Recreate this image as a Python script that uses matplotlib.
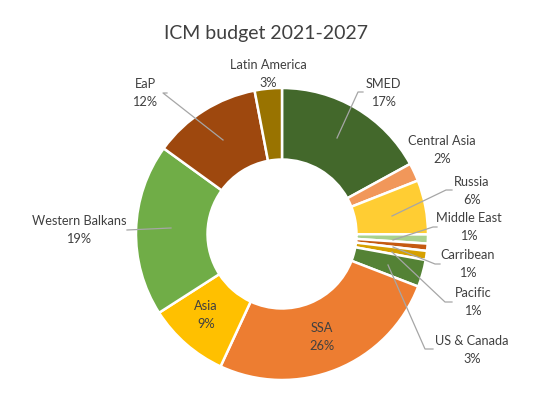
import matplotlib
matplotlib.use("Agg")
import matplotlib.pyplot as plt

plt.rcParams["font.family"] = ["Lato", "DejaVu Sans"]

# data, clockwise from 12 o'clock
regioes = ["SMED", "Central Asia", "Russia", "Middle East", "Carribean", "Pacific",
           "US & Canada", "SSA", "Asia", "Western Balkans", "EaP", "Latin America"]
valores = [17, 2, 6, 1, 0.8, 1, 3, 26, 9, 19, 12, 3]
cores = ["#43682B", "#F1975A", "#FFCD33", "#A9D18E", "#C55A11", "#D6A000",
         "#548235", "#ED7D31", "#FFC000", "#70AD47", "#9E480E", "#997300"]

# label placement (pixels in the 554x394 figure): text centre, leader line points
pos_rotulo = {
    "SMED": (383, 93), "Central Asia": (442, 150), "Russia": (472, 191),
    "Middle East": (469, 227), "Carribean": (468, 264), "Pacific": (473, 302),
    "US & Canada": (472, 350), "SSA": (322, 337), "Asia": (206, 315),
    "Western Balkans": (79, 230), "EaP": (145, 93), "Latin America": (268, 74),
}
linhas = {
    "SMED": [(363, 92), (358, 92), (337, 138)],
    "Russia": [(452, 190), (446, 190), (392, 216)],
    "Middle East": [(437, 227), (433, 227), (393, 240)],
    "Carribean": [(440, 264), (435, 264), (393, 247)],
    "Pacific": [(452, 302), (445, 302), (392, 252)],
    "US & Canada": [(433, 349), (425, 349), (388, 265)],
    "Western Balkans": [(127, 230), (171, 228)],
    "EaP": [(167, 93), (163, 93), (223, 140)],
}

W, H = 554, 394
CX, CY, R = 282, 234, 146


def px(p):
    """pixel -> data coords (pie radius 1)"""
    return (p[0] - CX) / R, (CY - p[1]) / R


fig = plt.figure(figsize=(W / 100, H / 100), dpi=100)
ax = fig.add_axes([0, 0, 1, 1])

ax.pie(valores, colors=cores, startangle=90, counterclock=False, radius=1,
       wedgeprops=dict(width=0.49, edgecolor="white", linewidth=1.8))

# pie() mexe nos limites, entao define depois
ax.set_xlim(-CX / R, (W - CX) / R)
ax.set_ylim(-(H - CY) / R, CY / R)
ax.axis("off")

total = sum(valores)
for nome, v in zip(regioes, valores):
    x, y = px(pos_rotulo[nome])
    ax.text(x, y, "%s\n%d%%" % (nome, round(v / total * 100)), ha="center", va="center",
            fontsize=9.2, color="#404040", linespacing=1.55)

for nome, pts in linhas.items():
    xs, ys = zip(*[px(p) for p in pts])
    ax.plot(xs, ys, color="#A6A6A6", linewidth=0.9)

fig.text(266 / W, 1 - 33 / H, "ICM budget 2021-2027", ha="center", va="center",
         fontsize=14, color="#404040")

fig.savefig("out.png", dpi=100)
